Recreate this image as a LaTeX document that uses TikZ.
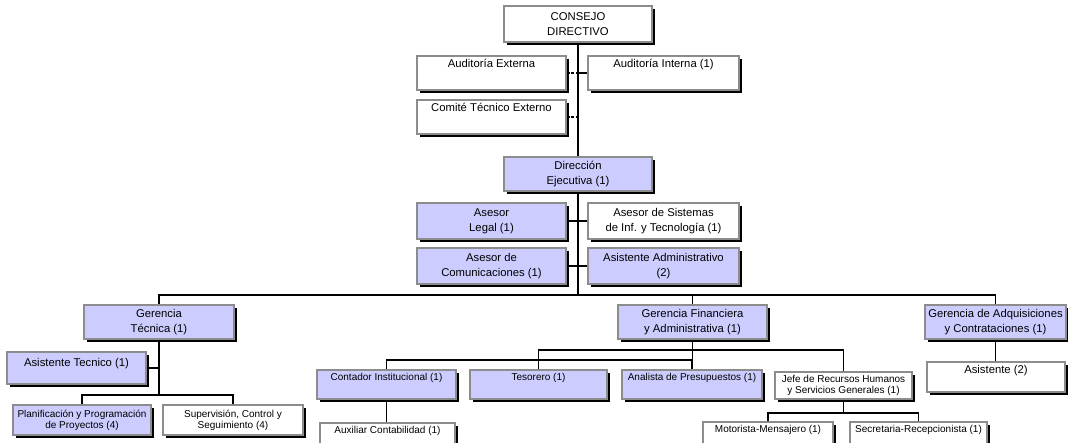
\documentclass[tikz,border=0pt]{standalone}
\usepackage{fontspec}
\setmainfont{Liberation Sans}
\usetikzlibrary{shadows}
\definecolor{lav}{RGB}{204,204,255}
\definecolor{bordergray}{RGB}{140,140,140}
\newcommand\fbig{\fontsize{11.3}{15}\selectfont}
\newcommand\fsmall{\fontsize{10}{11}\selectfont}
\begin{document}
\begin{tikzpicture}[x=1pt,y=-1pt,
  box/.style={draw=bordergray, line width=1.6pt, fill=white, align=center, inner sep=0pt,
    drop shadow={shadow xshift=2.5pt,shadow yshift=-2.5pt,fill=black,opacity=1}, font=\fbig},
  lbox/.style={box, fill=lav},
  sm/.style={font=\fsmall},
  conn/.style={line width=1.3pt, black},
  dconn/.style={conn, dash pattern=on 3pt off 1.5pt}]
\clip (0,0) rectangle (1068,442);
\fill[white] (0,0) rectangle (1068,442);
% top block
\node[box, minimum width=148pt, minimum height=36pt] (consejo) at (578,24) {CONSEJO\\DIRECTIVO};
\node[box, minimum width=149pt, minimum height=34pt] (audext) at (491.5,73) {Auditoría Externa\\\strut};
\node[box, minimum width=151pt, minimum height=34pt] (audint) at (663.5,73) {Auditoría Interna (1)\\\strut};
\node[box, minimum width=149pt, minimum height=34pt] (comite) at (491.5,117) {Comité Técnico Externo\\\strut};
\node[lbox, minimum width=148pt, minimum height=34pt] (direccion) at (578,174) {Dirección\\Ejecutiva (1)};
\node[lbox, minimum width=149pt, minimum height=36pt] (legal) at (491.5,221) {Asesor\\Legal (1)};
\node[box, minimum width=151pt, minimum height=36pt] (sistemas) at (663.5,221) {Asesor de Sistemas\\de Inf. y Tecnología (1)};
\node[lbox, minimum width=149pt, minimum height=36pt] (comunic) at (491.5,266) {Asesor de\\Comunicaciones (1)};
\node[lbox, minimum width=151pt, minimum height=36pt] (asisadm) at (663.5,266) {Asistente Administrativo\\(2)};
% gerencias
\node[lbox, minimum width=150pt, minimum height=34pt] (gtec) at (159,322) {Gerencia\\Técnica (1)};
\node[lbox, minimum width=149pt, minimum height=34pt] (gfin) at (692.5,322) {Gerencia Financiera\\y Administrativa (1)};
\node[lbox, minimum width=141pt, minimum height=34pt] (gadq) at (995.5,322) {Gerencia de Adquisiciones\\y Contrataciones (1)};
% tecnica
\node[lbox, minimum width=139pt, minimum height=32pt] (asistec) at (76.5,368) {Asistente Tecnico (1)\\[-8pt]\strut};
\node[lbox, sm, minimum width=138pt, minimum height=30pt] (planif) at (82,420) {Planificación y Programación\\de Proyectos (4)};
\node[box, sm, minimum width=140pt, minimum height=30pt] (superv) at (233,420) {Supervisión, Control y\\Seguimiento (4)};
% financiera
\node[lbox, sm, minimum width=139pt, minimum height=29pt] (contador) at (386.5,384.5) {Contador Institucional (1)\\\strut};
\node[lbox, sm, minimum width=137pt, minimum height=29pt] (tesorero) at (538.5,384.5) {Tesorero (1)\\\strut};
\node[lbox, sm, minimum width=140pt, minimum height=29pt] (analista) at (692,384.5) {Analista de Presupuestos (1)\\\strut};
\node[box, sm, minimum width=137pt, minimum height=27pt] (jefe) at (843.5,385.5) {Jefe de Recursos Humanos\\y Servicios Generales (1)};
\node[box, sm, minimum width=135pt, minimum height=25pt] (auxiliar) at (387.5,435.5) {Auxiliar Contabilidad (1)\\[-3pt]\strut};
\node[box, sm, minimum width=130pt, minimum height=26pt] (motorista) at (768,435) {Motorista-Mensajero (1)\\[-3pt]\strut};
\node[box, sm, minimum width=137pt, minimum height=26pt] (secretaria) at (918.5,435) {Secretaria-Recepcionista (1)\\[-3pt]\strut};
% adquisiciones
\node[box, minimum width=138pt, minimum height=30pt] (asis2) at (996,377) {Asistente (2)\\[-4pt]\strut};
% coordinates
\coordinate (hub) at (578,295);
\coordinate (gtbus) at (159,395);
\coordinate (fbus1) at (692.5,350);
\coordinate (fbus2) at (692.5,360);
\coordinate (jbus) at (843.5,413);
% connectors
\draw[conn] (consejo.south) -- (direccion.north);
\draw[dconn] (audext.east) -- (audext.east -| consejo.south);
\draw[conn] (audint.west) -- (audint.west -| consejo.south);
\draw[dconn] (comite.east) -- (comite.east -| consejo.south);
\draw[conn] (direccion.south) -- (hub);
\draw[conn] (legal.east) -- (sistemas.west);
\draw[conn] (comunic.east) -- (asisadm.west);
\draw[conn] (gtec.north) |- (hub) -| (gadq.north);
\draw[conn] (gfin.north) -- (gfin.north |- hub);
\draw[conn] (gtec.south) -- (gtbus);
\draw[conn] (asistec.east) -- (asistec.east -| gtec.south);
\draw[conn] (planif.north) |- (gtbus) -| (superv.north);
\draw[conn] (gfin.south) -- (fbus2);
\draw[conn] (contador.north) |- (fbus2);
\draw[conn] (analista.north) -- (analista.north |- fbus2);
\draw[conn] (tesorero.north) |- (fbus1) -| (jefe.north);
\draw[conn] (contador.south) -- (contador.south |- auxiliar.north);
\draw[conn] (jefe.south) -- (jbus);
\draw[conn] (motorista.north) |- (jbus) -| (secretaria.north);
\draw[conn] (gadq.south) -- (gadq.south |- asis2.north);
\end{tikzpicture}
\end{document}
